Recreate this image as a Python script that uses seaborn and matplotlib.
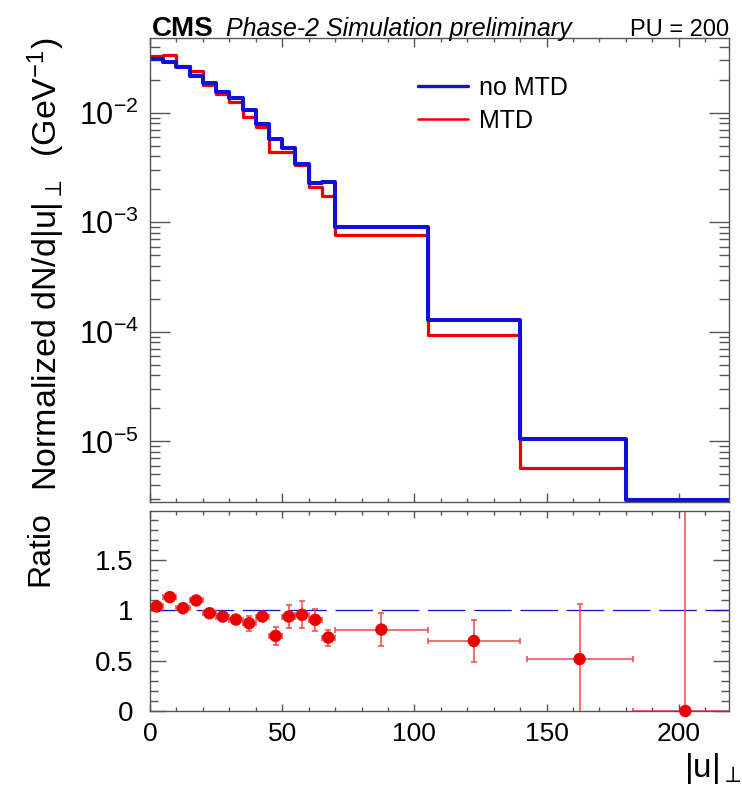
import numpy as np
import pandas as pd
import matplotlib
matplotlib.use('Agg')
import matplotlib.pyplot as plt
import matplotlib.ticker as ticker
from matplotlib.lines import Line2D
import seaborn as sns

# Histogram binning in |u|perp (GeV)
bin_edges = [0, 5, 10, 15, 20, 25, 30, 35, 40, 45, 50, 55, 60, 65, 70, 105, 140, 180, 220]

# Normalized dN/d|u|perp per bin
no_mtd = [0.0310, 0.0289, 0.0262, 0.0218, 0.0185, 0.0155, 0.0137, 0.0105, 0.00794,
          0.00580, 0.00471, 0.00339, 0.00228, 0.00234, 9.14e-4, 1.29e-4, 1.06e-5, 2.9e-6]
mtd = [0.0327, 0.0334, 0.0269, 0.0238, 0.0180, 0.0147, 0.0125, 0.00913, 0.00741,
       0.00433, 0.00442, 0.00332, 0.00211, 0.00172, 7.62e-4, 9.27e-5, 5.69e-6, 0.0]

# Ratio panel points (MTD / no MTD)
ratio_x = [2.5, 7.5, 12.5, 17.5, 22.5, 27.5, 32.5, 37.5, 42.5, 47.5, 52.5, 57.5, 62.5, 67.5,
           87.5, 122.5, 162.5, 202.5]
ratio_xerr = [2.5, 2.5, 2.5, 2.5, 2.5, 2.5, 2.5, 2.5, 2.5, 2.5, 2.5, 2.5, 2.5, 2.5,
              17.5, 17.5, 20, 20]
ratio_y = [1.04, 1.133, 1.023, 1.10, 0.973, 0.94, 0.91, 0.873, 0.94, 0.747, 0.94, 0.957,
           0.907, 0.73, 0.81, 0.697, 0.517, 0.0]
ratio_yerr = [0.02, 0.02, 0.025, 0.025, 0.03, 0.03, 0.035, 0.077, 0.04, 0.09, 0.113, 0.133,
              0.11, 0.08, 0.163, 0.21, 0.55, 2.5]

blue = '#1010d8'
red = '#ee0000'
frame = '#555555'

sns.set_theme(style='ticks')
plt.rcParams['font.family'] = ['Liberation Sans', 'DejaVu Sans']
plt.rcParams['mathtext.fontset'] = 'custom'
plt.rcParams['mathtext.rm'] = 'Liberation Sans'
plt.rcParams['mathtext.it'] = 'Liberation Sans:italic'
plt.rcParams['mathtext.bf'] = 'Liberation Sans:bold'
plt.rcParams['axes.unicode_minus'] = False
plt.rcParams['text.color'] = 'black'
plt.rcParams['axes.labelcolor'] = 'black'

fig = plt.figure(figsize=(7.42, 7.97), dpi=100)
ax_top = fig.add_axes([150 / 742, 1 - 502 / 797, 579 / 742, 464 / 797])
ax_rat = fig.add_axes([150 / 742, 1 - 711 / 797, 579 / 742, 200 / 797])

# Top panel: step histograms
centers = [(a + b) / 2 for a, b in zip(bin_edges[:-1], bin_edges[1:])]
df = pd.DataFrame({'u': centers, 'no MTD': no_mtd, 'MTD': mtd})
sns.histplot(data=df, x='u', weights='MTD', bins=bin_edges, element='step', fill=False,
             color=red, linewidth=2.3, ax=ax_top)
sns.histplot(data=df, x='u', weights='no MTD', bins=bin_edges, element='step', fill=False,
             color=blue, linewidth=2.9, ax=ax_top)
ax_top.set_yscale('log')
ax_top.set_xlim(0, 219)
ax_top.set_ylim(2.8e-6, 0.048)
ax_top.xaxis.set_major_locator(ticker.MultipleLocator(50))
ax_top.xaxis.set_minor_locator(ticker.MultipleLocator(10))
ax_top.yaxis.set_minor_formatter(ticker.NullFormatter())
ax_top.tick_params(axis='x', which='both', labelbottom=False)
ax_top.tick_params(axis='x', which='major', length=6.5)
ax_top.tick_params(axis='x', which='minor', length=3)
ax_top.tick_params(axis='y', which='major', length=14.4, labelsize=22, pad=8)
ax_top.tick_params(axis='y', which='minor', length=7.2)
ax_top.set_xlabel('')
ax_top.set_ylabel(r'Normalized dN/d$|\mathrm{u}|_{\perp}$  (GeV$^{-1}$)', fontsize=24.5, loc='top')
ax_top.yaxis.set_label_coords(-0.143, 1.0)

handles = [Line2D([], [], color=blue, lw=2.4), Line2D([], [], color=red, lw=1.8)]
ax_top.legend(handles, ['no MTD', 'MTD'], loc='upper left', frameon=False, fontsize=18,
              bbox_to_anchor=(418 / 742, 1 - 76 / 797), bbox_transform=fig.transFigure,
              borderpad=0, borderaxespad=0, handlelength=2.0, handletextpad=0.45,
              labelspacing=0.35)

# Ratio panel
ax_rat.axhline(1, color=blue, lw=0.9, dashes=(30, 7), zorder=1)
ax_rat.errorbar(ratio_x, ratio_y, xerr=ratio_xerr, yerr=ratio_yerr, fmt='none',
                ecolor='#f04848', elinewidth=1.1, capsize=2.2, capthick=1.1, zorder=2)
sns.scatterplot(x=ratio_x, y=ratio_y, color=red, s=80, edgecolor='none', zorder=3,
                clip_on=False, ax=ax_rat)
ax_rat.set_xlim(0, 219)
ax_rat.set_ylim(0, 1.99)
ax_rat.xaxis.set_major_locator(ticker.MultipleLocator(50))
ax_rat.xaxis.set_minor_locator(ticker.MultipleLocator(10))
ax_rat.yaxis.set_major_locator(ticker.MultipleLocator(0.5))
ax_rat.yaxis.set_minor_locator(ticker.MultipleLocator(0.1))
ax_rat.yaxis.set_major_formatter(ticker.FormatStrFormatter('%g'))
ax_rat.tick_params(axis='x', which='major', length=5, labelsize=19, pad=8)
ax_rat.tick_params(axis='x', which='minor', length=3)
ax_rat.tick_params(axis='y', which='major', length=11.5, labelsize=20, pad=12)
ax_rat.tick_params(axis='y', which='minor', length=5.8)
ax_rat.set_ylabel('Ratio', fontsize=23, loc='top')
ax_rat.yaxis.set_label_coords(-0.164, 1.0)

for ax in (ax_top, ax_rat):
    ax.tick_params(which='both', direction='in', top=True, right=True, color=frame, width=1,
                   labelcolor='black')
    for sp in ax.spines.values():
        sp.set_color(frame)
        sp.set_linewidth(1)

fig.text(741 / 742, 1 - 777 / 797, r'$|\mathrm{u}|_{\perp}$', fontsize=24, ha='right',
         va='baseline')

# Header
fig.text(152 / 742, 1 - 36 / 797, 'CMS', fontsize=20, fontweight='bold', va='baseline')
fig.text(226 / 742, 1 - 36 / 797, 'Phase-2 Simulation preliminary', fontsize=18,
         fontstyle='italic', va='baseline')
fig.text(729 / 742, 1 - 36 / 797, 'PU = 200', fontsize=17, ha='right', va='baseline')

fig.savefig('out.png', dpi=100)
